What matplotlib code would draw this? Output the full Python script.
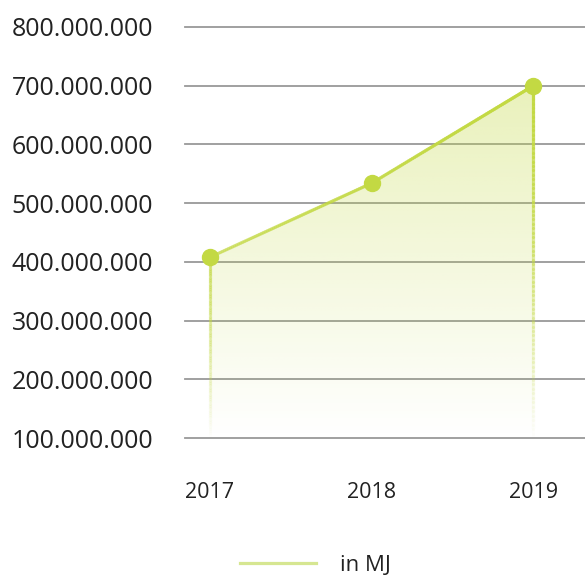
import numpy as np
import matplotlib.pyplot as plt
from matplotlib.collections import LineCollection
from matplotlib.lines import Line2D
from matplotlib.patches import Polygon
from matplotlib.colors import to_rgb

years = ['2017', '2018', '2019']
energy_mj = [408_000_000, 534_000_000, 700_000_000]
y_ticks = [100_000_000, 200_000_000, 300_000_000, 400_000_000,
           500_000_000, 600_000_000, 700_000_000, 800_000_000]
y_labels = ['100.000.000', '200.000.000', '300.000.000', '400.000.000',
            '500.000.000', '600.000.000', '700.000.000', '800.000.000']

plt.rcParams['font.family'] = ['Open Sans', 'DejaVu Sans']
green = '#c3d943'
text_col = '#222222'

fig = plt.figure(figsize=(5.85, 5.83), dpi=100)
ax = fig.add_axes([185 / 585, (583 - 438) / 583, 400 / 585, (438 - 27) / 583])

x = np.arange(len(years))
base = y_ticks[0]
ymin, ymax = y_ticks[0], y_ticks[-1]
ax.set_xlim(-0.155, 2.32)
ax.set_ylim(ymin, ymax)

# grid lines
for t in y_ticks:
    ax.axhline(t, color='#999999', lw=1.3, zorder=1, clip_on=False)

# gradient fill clipped to the area under the line
top = max(energy_mj)
grad = np.linspace(0, 1, 256).reshape(-1, 1)
rgba = np.zeros((256, 1, 4))
rgba[..., :3] = to_rgb(green)
rgba[..., 3] = 0.36 * grad
img = ax.imshow(rgba, extent=[x[0], x[-1], base, top], origin='lower',
                aspect='auto', zorder=2, interpolation='bilinear')
poly = Polygon(list(zip([x[0]] + list(x) + [x[-1]], [base] + energy_mj + [base])),
               closed=True, transform=ax.transData, facecolor='none', edgecolor='none')
ax.add_patch(poly)
img.set_clip_path(poly)

# outline with vertical fade
ox = [x[0]] + list(x) + [x[-1]]
oy = [base] + energy_mj + [base]
segs, cols = [], []
r, g, b = to_rgb(green)
for i in range(len(ox) - 1):
    xs = np.linspace(ox[i], ox[i + 1], 80)
    ys = np.linspace(oy[i], oy[i + 1], 80)
    for j in range(79):
        segs.append([(xs[j], ys[j]), (xs[j + 1], ys[j + 1])])
        f = ((ys[j] + ys[j + 1]) / 2 - base) / (top - base)
        cols.append((r, g, b, float(np.clip(f, 0, 1)) ** 1.1))
lc = LineCollection(segs, colors=cols, linewidths=2.3, zorder=3, capstyle='round')
ax.add_collection(lc)

ax.plot(x, energy_mj, 'o', color=green, markersize=11.5, zorder=4, clip_on=False)

ax.set_yticks(y_ticks)
ax.set_yticklabels(y_labels)
ax.set_xticks(x)
ax.set_xticklabels(years)
ax.tick_params(axis='y', length=0, pad=23, labelsize=18, labelcolor=text_col)
ax.tick_params(axis='x', length=0, pad=32, labelsize=15.5, labelcolor=text_col)
for s in ax.spines.values():
    s.set_visible(False)

handle = Line2D([], [], color='#d6e691', lw=2.3)
fig.legend([handle], ['in MJ'], loc='lower center', bbox_to_anchor=(0.54, -0.022),
           frameon=False, fontsize=16, handlelength=3.4, handletextpad=1.1,
           labelcolor=text_col)

fig.savefig('out.png', dpi=100)
